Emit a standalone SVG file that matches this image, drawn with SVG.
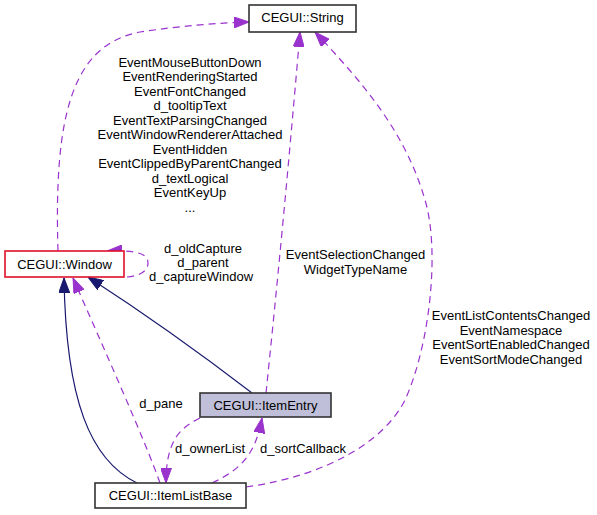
<svg xmlns="http://www.w3.org/2000/svg" width="597" height="515" viewBox="0 0 597 515">
<style>
text{font-family:"Liberation Sans",Arial,sans-serif;font-size:13px;fill:#000;text-anchor:middle}
.node rect{stroke-width:1.6}
.dash{fill:none;stroke:#9a32cd;stroke-width:1.2;stroke-dasharray:7,5;marker-end:url(#pa)}
.solid{fill:none;stroke:#191970;stroke-width:1.2;marker-end:url(#na)}
</style>
<defs>
<marker id="pa" viewBox="0 0 15 11" refX="15" refY="5.5" markerWidth="15" markerHeight="11" markerUnits="userSpaceOnUse" orient="auto"><path d="M0,0 L15,5.5 L0,11 z" fill="#9a32cd" stroke="#9a32cd"/></marker>
<marker id="na" viewBox="0 0 15 11" refX="15" refY="5.5" markerWidth="15" markerHeight="11" markerUnits="userSpaceOnUse" orient="auto"><path d="M0,0 L15,5.5 L0,11 z" fill="#191970" stroke="#191970"/></marker>
</defs>
<rect width="597" height="515" fill="#fff"/>
<g id="connectors">
<path class="dash" d="M58,251 C54,120 70,45 140,32 C180,26 215,23 249,22"/>
<path class="dash" d="M266,393 Q284,220 300,32"/>
<path class="dash" d="M246,487 C330,475 385,440 405,400 C430,345 440,250 425,200 C405,130 360,80 315,32"/>
<path class="dash" d="M127,277 C140,276 148,271 148,263 C148,254 138,250 107,251"/>
<path class="solid" d="M252,393 Q170,330 88,277"/>
<path class="solid" d="M137,483 C90,460 66,400 64,278"/>
<path class="dash" d="M160,483 C145,440 100,340 73,278"/>
<path class="dash" d="M200,418 C180,428 166,440 166,483"/>
<path class="dash" d="M212,483 C245,468 256,450 262,418"/>
</g>
<g id="labels">
<text x="190" y="66.7">EventMouseButtonDown</text>
<text x="190" y="81.2">EventRenderingStarted</text>
<text x="190" y="95.7">EventFontChanged</text>
<text x="190" y="110.2">d_tooltipText</text>
<text x="190" y="124.7">EventTextParsingChanged</text>
<text x="190" y="139.2">EventWindowRendererAttached</text>
<text x="190" y="153.7">EventHidden</text>
<text x="190" y="168.2">EventClippedByParentChanged</text>
<text x="190" y="182.7">d_textLogical</text>
<text x="190" y="197.2">EventKeyUp</text>
<text x="190" y="211.7">...</text>
<text x="203" y="252.5">d_oldCapture</text>
<text x="203" y="266.8">d_parent</text>
<text x="201" y="281">d_captureWindow</text>
<text x="355.5" y="259.3">EventSelectionChanged</text>
<text x="355.5" y="274.3">WidgetTypeName</text>
<text x="511" y="320">EventListContentsChanged</text>
<text x="511" y="334.5">EventNamespace</text>
<text x="511" y="349">EventSortEnabledChanged</text>
<text x="511" y="363.5">EventSortModeChanged</text>
<text x="161" y="408.3">d_pane</text>
<text x="210" y="453.3">d_ownerList</text>
<text x="303" y="453.3">d_sortCallback</text>
</g>
<g id="node-string" class="node"><rect x="249" y="5" width="107" height="27" fill="#fff" stroke="#333"/><text x="302.5" y="22">CEGUI::String</text></g>
<g id="node-window" class="node"><rect x="5" y="251" width="119" height="26" fill="#fff" stroke="#e0102a"/><text x="64.5" y="268.5">CEGUI::Window</text></g>
<g id="node-itementry" class="node"><rect x="200" y="393" width="131" height="24" fill="#bfbfd9" stroke="#333"/><text x="265.5" y="409.5">CEGUI::ItemEntry</text></g>
<g id="node-itemlistbase" class="node"><rect x="95" y="483" width="151" height="25" fill="#fff" stroke="#333"/><text x="170.5" y="500">CEGUI::ItemListBase</text></g>
</svg>
